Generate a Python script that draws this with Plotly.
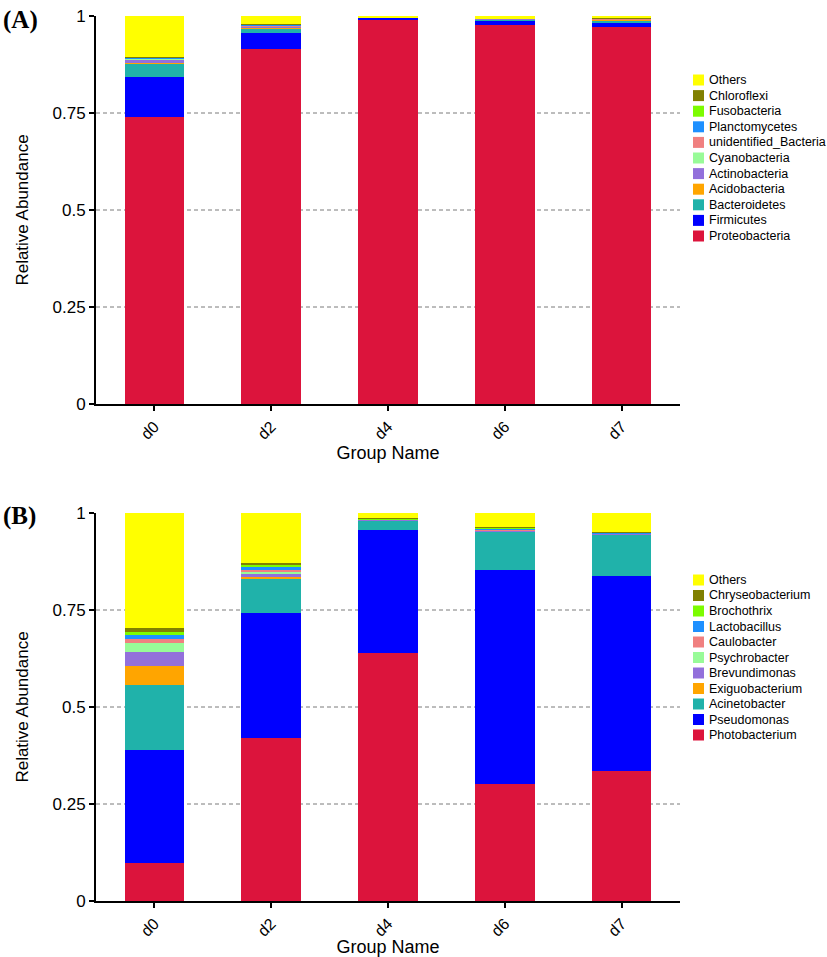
import plotly.graph_objects as go

groups = ["d0", "d2", "d4", "d6", "d7"]

# Panel A (phylum) - bottom to top
phyla = ["Proteobacteria", "Firmicutes", "Bacteroidetes", "Acidobacteria", "Actinobacteria",
         "Cyanobacteria", "unidentified_Bacteria", "Planctomycetes", "Fusobacteria",
         "Chloroflexi", "Others"]
Proteobacteria = [0.739, 0.914, 0.991, 0.978, 0.971]
Firmicutes = [0.104, 0.043, 0.005, 0.011, 0.012]
Bacteroidetes = [0.035, 0.012, 0.001, 0.002, 0.005]
Acidobacteria = [0.002, 0.001, 0.0, 0.0005, 0.002]
Actinobacteria = [0.008, 0.002, 0.0, 0.0005, 0.001]
Cyanobacteria = [0.002, 0.002, 0.0, 0.0, 0.001]
unidentified_Bacteria = [0.001, 0.002, 0.0, 0.0, 0.001]
Planctomycetes = [0.001, 0.001, 0.0, 0.0, 0.001]
Fusobacteria = [0.001, 0.001, 0.0, 0.0, 0.0005]
Chloroflexi = [0.001, 0.001, 0.0, 0.0, 0.0005]
Others_A = [0.106, 0.021, 0.003, 0.008, 0.005]
values_A = [Proteobacteria, Firmicutes, Bacteroidetes, Acidobacteria, Actinobacteria,
            Cyanobacteria, unidentified_Bacteria, Planctomycetes, Fusobacteria,
            Chloroflexi, Others_A]

# Panel B (genus) - bottom to top
genera = ["Photobacterium", "Pseudomonas", "Acinetobacter", "Exiguobacterium", "Brevundimonas",
          "Psychrobacter", "Caulobacter", "Lactobacillus", "Brochothrix",
          "Chryseobacterium", "Others"]
Photobacterium = [0.097, 0.421, 0.640, 0.302, 0.336]
Pseudomonas = [0.291, 0.321, 0.315, 0.551, 0.502]
Acinetobacter = [0.169, 0.089, 0.025, 0.099, 0.107]
Exiguobacterium = [0.048, 0.006, 0.001, 0.001, 0.0005]
Brevundimonas = [0.038, 0.005, 0.001, 0.001, 0.0005]
Psychrobacter = [0.021, 0.006, 0.001, 0.002, 0.0005]
Caulobacter = [0.010, 0.006, 0.001, 0.002, 0.0015]
Lactobacillus = [0.011, 0.006, 0.0005, 0.001, 0.001]
Brochothrix = [0.008, 0.006, 0.001, 0.003, 0.002]
Chryseobacterium = [0.010, 0.004, 0.0005, 0.001, 0.001]
Others_B = [0.297, 0.130, 0.014, 0.037, 0.048]
values_B = [Photobacterium, Pseudomonas, Acinetobacter, Exiguobacterium, Brevundimonas,
            Psychrobacter, Caulobacter, Lactobacillus, Brochothrix, Chryseobacterium, Others_B]

colors = ["#DC143C", "#0000FF", "#20B2AA", "#FFA500", "#9370DB", "#98FB98",
          "#F08080", "#1E90FF", "#7CFC00", "#808000", "#FFFF00"]

tick_vals = [0, 0.25, 0.5, 0.75, 1]
tick_text = ["0", "0.25", "0.5", "0.75", "1"]

FONT = "Liberation Sans, Arial, sans-serif"
SERIF = "Liberation Serif, Times New Roman, serif"

fig = go.Figure()
for name, vals, c in zip(phyla, values_A, colors):
    fig.add_trace(go.Bar(x=groups, y=vals, name=name, marker=dict(color=c, line=dict(width=0)),
                         xaxis="x", yaxis="y", showlegend=False))
for name, vals, c in zip(genera, values_B, colors):
    fig.add_trace(go.Bar(x=groups, y=vals, name=name, marker=dict(color=c, line=dict(width=0)),
                         xaxis="x2", yaxis="y2", showlegend=False))

W, H = 827, 957
L, R, T, B = 96, 147, 16, 56
pw = W - L - R
ph = H - T - B


def py(p):
    return (H - B - p) / ph


def px(p):
    return (p - L) / pw


yA = [py(404), py(16)]
yB = [py(901), py(513)]

xaxis_common = dict(domain=[0, 1], showline=True, linecolor="black", linewidth=2,
                    ticks="outside", ticklen=5, tickwidth=2, tickcolor="black",
                    tickangle=-45, tickfont=dict(family=FONT, size=16, color="black"),
                    showgrid=False, zeroline=False, automargin=False,
                    title=dict(text="Group Name", font=dict(family=FONT, size=18, color="black"),
                               standoff=2))
yaxis_common = dict(range=[0, 1], showline=True, linecolor="black", linewidth=2,
                    ticks="outside", ticklen=5, tickwidth=2, tickcolor="black",
                    tickvals=tick_vals, ticktext=tick_text,
                    tickfont=dict(family=FONT, size=17, color="black"),
                    showgrid=False, zeroline=False, automargin=False,
                    title=dict(text="Relative Abundance", font=dict(family=FONT, size=17, color="black"),
                               standoff=20))

fig.update_layout(
    width=W, height=H,
    margin=dict(l=L, r=R, t=T, b=B, autoexpand=False),
    plot_bgcolor="white", paper_bgcolor="white",
    barmode="stack", bargap=0.49,
    xaxis=dict(anchor="y", **xaxis_common),
    yaxis=dict(domain=yA, anchor="x", **yaxis_common),
    xaxis2=dict(anchor="y2", **xaxis_common),
    yaxis2=dict(domain=yB, anchor="x2", **yaxis_common),
    showlegend=False,
)

shapes = []
for yr, xr in (("y", "x"), ("y2", "x2")):
    for v in [0.25, 0.5, 0.75]:
        shapes.append(dict(type="line", xref=xr + " domain", x0=0, x1=1, yref=yr, y0=v, y1=v,
                           line=dict(color="#7a7a7a", width=1, dash="4px,3px"), layer="below"))

annotations = []
# manual legends (top entry = last series)
for names, top, step in ((phyla, 80, 15.6), (genera, 580, 15.5)):
    for i, (name, c) in enumerate(zip(reversed(names), reversed(colors))):
        cy = top + i * step
        shapes.append(dict(type="rect", xref="paper", yref="paper",
                           x0=px(693), x1=px(704), y0=py(cy - 5.5), y1=py(cy + 5.5),
                           fillcolor=c, line=dict(width=0)))
        annotations.append(dict(text=name, xref="paper", yref="paper", x=px(707), y=py(cy),
                                xanchor="left", yanchor="middle", showarrow=False,
                                font=dict(family=FONT, size=12.5, color="black")))

annotations.append(dict(text="<b>(A)</b>", xref="paper", yref="paper", x=px(1), y=py(4),
                        xanchor="left", yanchor="top", showarrow=False,
                        font=dict(family=SERIF, size=25, color="black")))
annotations.append(dict(text="<b>(B)</b>", xref="paper", yref="paper", x=px(1), y=py(500),
                        xanchor="left", yanchor="top", showarrow=False,
                        font=dict(family=SERIF, size=25, color="black")))

fig.update_layout(shapes=shapes, annotations=annotations)

fig.write_html("out.html", config={"displayModeBar": False},
               post_script="document.body.style.margin='0';document.body.style.overflow='hidden';")
